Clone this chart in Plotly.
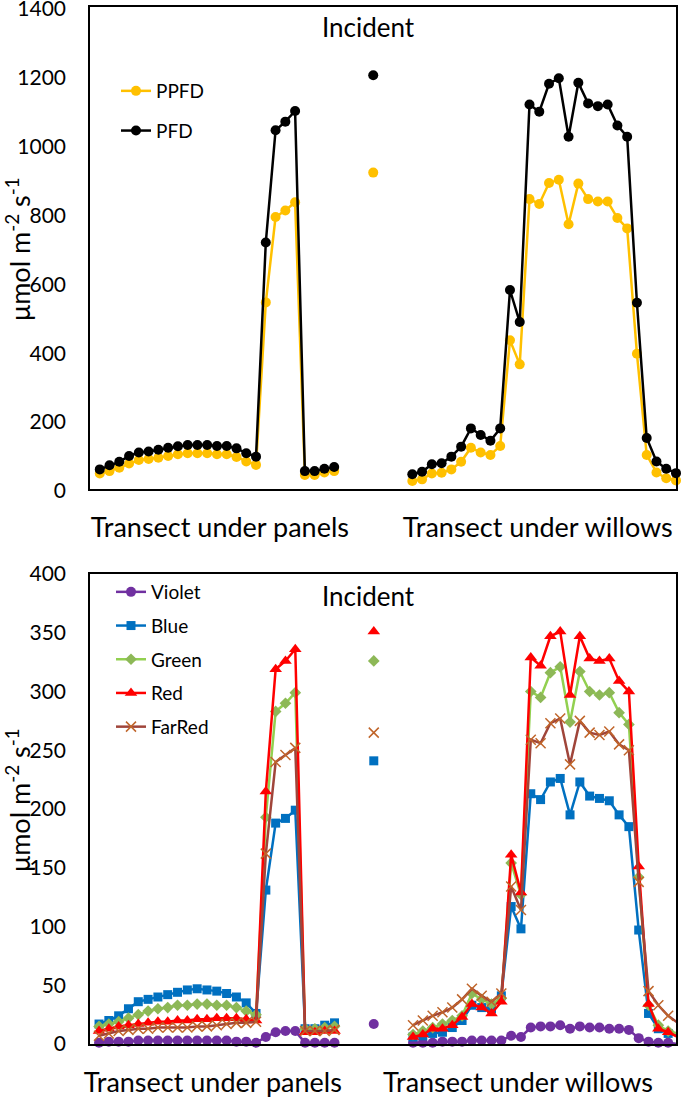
import plotly.graph_objects as go

# ---------------- data ----------------
group_labels = ["Transect under panels", "Transect under willows"]
incident_label = "Incident"

# top panel: PPFD / PFD (µmol m-2 s-1)
ppfd_panels = [45, 52, 62, 74, 84, 87, 91, 96, 101, 104, 104, 104, 101, 101, 93, 80, 70,
               542, 790, 809, 833, 41, 41, 48, 52]
pfd_panels = [57, 69, 79, 96, 106, 109, 114, 120, 124, 128, 128, 128, 125, 125, 118, 104, 94,
              716, 1042, 1067, 1098, 52, 52, 59, 64]
ppfd_incident = 919
pfd_incident = 1202
ppfd_willows = [23, 28, 45, 47, 57, 79, 120, 106, 99, 125, 432, 362, 842, 828, 889, 898, 769,
                887, 842, 835, 835, 787, 757, 393, 99, 48, 31, 25]
pfd_willows = [43, 50, 72, 75, 94, 123, 176, 157, 140, 176, 578, 485, 1117, 1096, 1177, 1193,
               1023, 1180, 1120, 1112, 1117, 1056, 1023, 541, 148, 80, 59, 46]

# bottom panel: spectral bands
violet_panels = [1, 2, 2, 2, 3, 3, 3, 3, 3, 3, 3, 3, 3, 3, 2, 2, 1, 6, 10, 11, 11, 1, 1, 1, 1]
blue_panels = [17, 20, 24, 30, 36, 38, 40, 42, 44, 46, 47, 46, 45, 43, 40, 35, 26,
               131, 188, 192, 199, 13, 13, 16, 18]
green_panels = [15, 17, 19, 22, 25, 28, 30, 31, 33, 33, 34, 34, 33, 33, 31, 28, 25,
                193, 283, 290, 299, 13, 13, 14, 15]
red_panels = [11, 13, 15, 16, 17, 18, 19, 19, 20, 20, 21, 21, 22, 22, 22, 21, 20,
              215, 319, 326, 336, 10, 10, 11, 11]
farred_panels = [7, 9, 11, 12, 13, 13, 14, 14, 14, 14, 15, 15, 16, 17, 18, 18, 19,
                 162, 240, 246, 252, 11, 11, 11, 12]

violet_incident = 17
blue_incident = 241
green_incident = 326
red_incident = 351
farred_incident = 265

violet_willows = [1, 1, 1, 2, 2, 2, 3, 3, 3, 3, 7, 6, 14, 15, 15, 16, 13, 15, 14, 14, 13, 13,
                  12, 5, 2, 1, 1, 0]
blue_willows = [6, 7, 9, 10, 14, 20, 33, 31, 30, 41, 117, 98, 213, 208, 223, 226, 195, 223,
                211, 209, 207, 195, 185, 97, 26, 13, 9, 7]
green_willows = [8, 11, 14, 17, 20, 24, 43, 38, 34, 39, 154, 127, 300, 295, 316, 321, 274, 317,
                 300, 297, 299, 282, 272, 142, 33, 16, 11, 9]
red_willows = [6, 8, 13, 13, 16, 23, 34, 31, 26, 36, 161, 129, 329, 322, 347, 351, 297, 347,
               328, 326, 328, 309, 300, 151, 34, 13, 10, 6]
farred_willows = [16, 20, 24, 27, 31, 38, 47, 41, 36, 43, 134, 114, 259, 256, 273, 277, 238, 275,
                  265, 263, 266, 255, 250, 138, 45, 33, 24, 18]

# ---------------- helpers ----------------
GAP = 3  # empty category slots between groups


def build(panels, incident, willows):
    return panels + [None] * GAP + [incident] + [None] * GAP + willows


n_total = len(ppfd_panels) + GAP + 1 + GAP + len(ppfd_willows)
x_idx = list(range(n_total))

FONT = "Lato"
W, H = 685, 1098
ML, MR, MT, MB = 90, 9, 7, 54
PW, PH = W - ML - MR, H - MT - MB


def px(xp):
    return (xp - ML) / PW


def py(yp):
    return 1 - (yp - MT) / PH


fig = go.Figure()

top_series = [
    ("PPFD", build(ppfd_panels, ppfd_incident, ppfd_willows), "#FFC000",
     dict(symbol="circle", size=10, color="#FFC000")),
    ("PFD", build(pfd_panels, pfd_incident, pfd_willows), "#000000",
     dict(symbol="circle", size=10, color="#000000")),
]
for name, ys, col, mk in top_series:
    fig.add_trace(go.Scatter(
        x=x_idx, y=ys, name=name, mode="lines+markers",
        line=dict(color=col, width=2.5), marker=mk,
        connectgaps=False, cliponaxis=False,
        xaxis="x", yaxis="y", legend="legend", legendgroup=name))

bottom_series = [
    ("Violet", build(violet_panels, violet_incident, violet_willows), "#7030A0",
     dict(symbol="circle", size=10, color="#7030A0")),
    ("Blue", build(blue_panels, blue_incident, blue_willows), "#0070C0",
     dict(symbol="square", size=9, color="#0070C0")),
    ("Green", build(green_panels, green_incident, green_willows), "#92D050",
     dict(symbol="diamond", size=9, color="#8DB857")),
    ("Red", build(red_panels, red_incident, red_willows), "#FF0000",
     dict(symbol="triangle-up", size=11, color="#FF0000")),
    ("FarRed", build(farred_panels, farred_incident, farred_willows), "#A0453A",
     dict(symbol="x-thin-open", size=10, color="#C0652A", line=dict(width=1.5, color="#C0652A"))),
]
for name, ys, col, mk in bottom_series:
    fig.add_trace(go.Scatter(
        x=x_idx, y=ys, name=name, mode="lines+markers",
        line=dict(color=col, width=2.5), marker=mk,
        connectgaps=False, cliponaxis=False,
        xaxis="x2", yaxis="y2", legend="legend2", legendgroup=name))

axis_common = dict(showline=True, mirror=True, linecolor="black", linewidth=1.5,
                   showgrid=False, zeroline=False, automargin=False,
                   ticklabeloverflow="allow")

top_lo = py(489)
bot_hi = py(574)

fig.update_layout(
    width=W, height=H,
    margin=dict(l=ML, r=MR, t=MT, b=MB, autoexpand=False),
    paper_bgcolor="white", plot_bgcolor="white",
    font=dict(family=FONT, color="black"),
    xaxis=dict(domain=[0, 1], anchor="y", range=[-1, 59], tickvals=[12.3, 44.85],
               ticktext=group_labels, ticks="", tickfont=dict(size=27),
               ticklabelstandoff=14, **axis_common),
    yaxis=dict(domain=[top_lo, 1], anchor="x", range=[0, 1400], dtick=200, ticks="",
               tickfont=dict(size=21), ticklabelstandoff=18, ticklabelshift=2,
               **axis_common),
    xaxis2=dict(domain=[0, 1], anchor="y2", range=[-0.92, 58.8], tickvals=[11.6, 42.7],
                ticktext=group_labels, ticks="", tickfont=dict(size=27),
                ticklabelstandoff=14, **axis_common),
    yaxis2=dict(domain=[0, bot_hi], anchor="x2", range=[0, 400], dtick=50, ticks="",
                tickfont=dict(size=21), ticklabelstandoff=18, **axis_common),
    legend=dict(xref="paper", yref="paper", x=px(116), y=py(72),
                xanchor="left", yanchor="top", bgcolor="rgba(0,0,0,0)",
                font=dict(size=19), traceorder="grouped", tracegroupgap=12),
    legend2=dict(xref="paper", yref="paper", x=px(111), y=py(573),
                 xanchor="left", yanchor="top", bgcolor="rgba(0,0,0,0)",
                 font=dict(size=19), traceorder="grouped", tracegroupgap=6),
    showlegend=True,
)

ytitle = "μmol m<sup>-2</sup> s<sup>-1</sup>"
fig.add_annotation(text=ytitle, xref="paper", yref="paper", x=px(18), y=py(249),
                   textangle=-90, showarrow=False, font=dict(size=27), xanchor="center",
                   yanchor="middle")
fig.add_annotation(text=ytitle, xref="paper", yref="paper", x=px(18), y=py(800),
                   textangle=-90, showarrow=False, font=dict(size=27), xanchor="center",
                   yanchor="middle")
fig.add_annotation(text=incident_label, xref="paper", yref="paper", x=px(368),
                   y=py(27), showarrow=False, font=dict(size=26), xanchor="center",
                   yanchor="middle")
fig.add_annotation(text=incident_label, xref="paper", yref="paper", x=px(368),
                   y=py(596), showarrow=False, font=dict(size=26), xanchor="center",
                   yanchor="middle")

fig.write_html("out.html", config={"displayModeBar": False},
               post_script="document.body.style.margin='0';document.body.style.padding='0';")
